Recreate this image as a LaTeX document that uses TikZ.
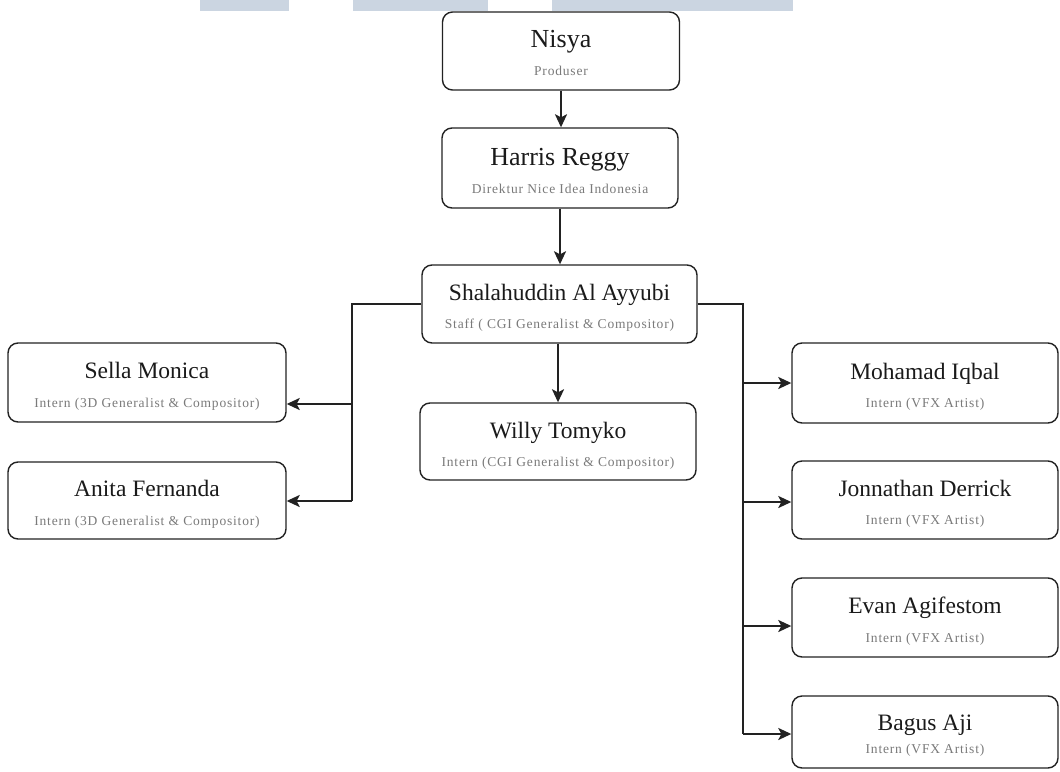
\documentclass[tikz,border=0pt]{standalone}
\usepackage{fontspec}
\setmainfont{Liberation Serif}
\newfontfamily\subfam[LetterSpace=6]{Liberation Serif}
\usetikzlibrary{arrows.meta}
\definecolor{wm}{HTML}{CBD5E1}
\definecolor{edge}{HTML}{222222}
\definecolor{nametxt}{HTML}{1A1A1A}
\definecolor{subtxt}{HTML}{7A7A7A}
% \persona{id}{cx}{cy}{width}{height}{name}{subtitle}{name offset}{sub offset}
\newcommand{\persona}[9]{%
  \node[box, minimum width=#4pt, minimum height=#5pt] (#1) at (#2,#3) {};
  \node[nm, anchor=base] (#1-n) at ([yshift=#8pt]#1.center) {#6};
  \node[sb, anchor=base] (#1-s) at ([yshift=#9pt]#1.center) {#7};
}
\begin{document}
\begin{tikzpicture}[x=1pt,y=-1pt,
  box/.style={draw=edge, line width=1.4pt, rounded corners=10pt, inner sep=0pt, fill=white},
  nm/.style={font=\fontsize{23.5}{26}\selectfont, text=nametxt, inner sep=0pt},
  big/.style={font=\fontsize{26}{28}\selectfont},
  sb/.style={font=\subfam\fontsize{13.5}{15}\selectfont, text=subtxt, inner sep=0pt},
  conn/.style={line width=1.9pt, draw=edge},
  arr/.style={conn, -{Stealth[length=13pt,width=12pt,inset=3pt]}}]
\useasboundingbox (0,0) rectangle (1060,771);
\fill[white] (0,0) rectangle (1060,771);
% watermark bars
\fill[wm] (200,0) rectangle (289,11);
\fill[wm] (353,0) rectangle (488,11);
\fill[wm] (552,0) rectangle (793,11);
% boxes
\tikzset{nm/.append style={big}}
\persona{nisya}{561}{51}{237}{78}{Nisya}{Produser}{3.5}{-24.5}
\persona{harris}{560}{168}{236}{80}{Harris Reggy}{Direktur Nice Idea Indonesia}{3}{-25}
\tikzset{nm/.style={font=\fontsize{23.5}{26}\selectfont, text=nametxt, inner sep=0pt}}
\persona{shal}{559.5}{304}{275}{78}{Shalahuddin Al Ayyubi}{Staff ( CGI Generalist \& Compositor)}{3.5}{-24.5}
\persona{willy}{558}{441.5}{276}{77}{Willy Tomyko}{Intern (CGI Generalist \& Compositor)}{3.5}{-24.5}
\persona{sella}{147}{382.5}{278}{79}{Sella Monica}{Intern (3D Generalist \& Compositor)}{4}{-24.5}
\persona{anita}{147}{500.5}{278}{77}{Anita Fernanda}{Intern (3D Generalist \& Compositor)}{4}{-24.5}
\persona{moham}{925}{383}{266}{80}{Mohamad Iqbal}{Intern (VFX Artist)}{4}{-24.5}
\persona{jonn}{925}{500}{266}{78}{Jonnathan Derrick}{Intern (VFX Artist)}{4}{-24.5}
\persona{evan}{925}{617.5}{266}{79}{Evan Agifestom}{Intern (VFX Artist)}{4}{-24.5}
\persona{bagus}{925}{732}{266}{72}{Bagus Aji}{Intern (VFX Artist)}{2}{-21}
% split points
\coordinate (lsplit) at (352,404);
\coordinate (lend) at (352,501);
\coordinate (r1) at (743,383);
\coordinate (r2) at (743,502);
\coordinate (r3) at (743,626);
\coordinate (r4) at (743,734);
% connectors
\draw[arr] (nisya.south) -- (nisya.south |- harris.north);
\draw[arr] (harris.south) -- (harris.south |- shal.north);
\draw[arr] (shal.south -| willy.north) -- (willy.north);
\draw[conn] (shal.west) -| (lend);
\draw[arr] (lsplit) -- (sella.east |- lsplit);
\draw[arr] (lend) -- (anita.east |- lend);
\draw[conn] (shal.east) -| (r4);
\draw[arr] (r1) -- (moham.west |- r1);
\draw[arr] (r2) -- (jonn.west |- r2);
\draw[arr] (r3) -- (evan.west |- r3);
\draw[arr] (r4) -- (bagus.west |- r4);
\end{tikzpicture}
\end{document}
